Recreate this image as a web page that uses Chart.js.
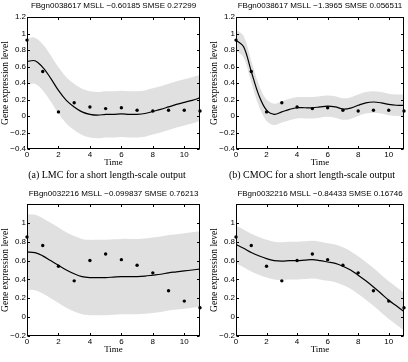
<!DOCTYPE html>
<html><head><meta charset="utf-8">
<script src="https://cdn.jsdelivr.net/npm/chart.js@4"></script>
<style>
html,body{margin:0;padding:0;background:#fff;}
body{width:408px;height:362px;position:relative;overflow:hidden;}
canvas{position:absolute;}
.cap{position:absolute;font-family:'Liberation Serif','Times New Roman',serif;font-size:10px;color:#000;white-space:nowrap;transform:translateX(-50%);line-height:12px;}
</style></head><body>
<canvas id="c1" width="204" height="170" style="left:0;top:0"></canvas>
<canvas id="c2" width="204" height="170" style="left:204px;top:0"></canvas>
<canvas id="c3" width="204" height="178" style="left:0;top:184px"></canvas>
<canvas id="c4" width="204" height="178" style="left:204px;top:184px"></canvas>
<div class="cap" style="left:107px;top:169px">(a) LMC for a short length-scale output</div>
<div class="cap" style="left:312px;top:169px">(b) CMOC for a short length-scale output</div>
<script>
// ---- data ----
const tGrid = [0,0.5,1,1.5,2,2.5,3,3.5,4,4.5,5,5.5,6,6.5,7,7.5,8,8.5,9,9.5,10,10.5,11];
const tObs = [0,1,2,3,4,5,6,7,8,9,10,11];
const xTicks = [0,2,4,6,8,10];
const yTicksTop = [-0.4,-0.2,0,0.2,0.4,0.6,0.8,1,1.2];
const yTicksBottom = [-0.2,0,0.2,0.4,0.6,0.8,1];

const titles = [
  "FBgn0038617 MSLL \u22120.60185 SMSE 0.27299",
  "FBgn0038617 MSLL \u22121.3965 SMSE 0.056511",
  "FBgn0032216 MSLL \u22120.099837 SMSE 0.76213",
  "FBgn0032216 MSLL \u22120.84433 SMSE 0.16746"
];

// observations
const obsGene1 = [0.92,0.54,0.05,0.16,0.11,0.09,0.10,0.07,0.06,0.07,0.07,0.06];
const obsGene2 = [0.85,0.76,0.54,0.385,0.60,0.67,0.61,0.55,0.47,0.28,0.17,0.10];

// (a) LMC gene 1
const meanA = [0.66,0.67,0.59,0.46,0.31,0.19,0.11,0.05,0.02,0.01,0.02,0.02,0.025,0.02,0.02,0.03,0.055,0.08,0.11,0.14,0.165,0.19,0.22];
const upperA = [0.94,0.95,0.87,0.74,0.59,0.47,0.39,0.33,0.30,0.29,0.30,0.30,0.305,0.30,0.30,0.31,0.335,0.36,0.39,0.42,0.445,0.47,0.50];
const lowerA = [0.38,0.39,0.31,0.18,0.03,-0.09,-0.17,-0.23,-0.26,-0.27,-0.26,-0.26,-0.255,-0.26,-0.26,-0.25,-0.225,-0.20,-0.17,-0.14,-0.115,-0.09,-0.06];

// (b) CMOC gene 1
const meanB = [0.92,0.84,0.54,0.25,0.07,0.02,0.05,0.08,0.10,0.10,0.10,0.11,0.12,0.11,0.085,0.095,0.13,0.16,0.17,0.16,0.14,0.13,0.13];
const upperB = [1.05,0.97,0.67,0.38,0.20,0.15,0.18,0.21,0.23,0.23,0.23,0.24,0.25,0.24,0.215,0.225,0.26,0.29,0.30,0.29,0.27,0.26,0.26];
const lowerB = [0.79,0.71,0.41,0.12,-0.06,-0.11,-0.08,-0.05,-0.03,-0.03,-0.03,-0.02,-0.01,-0.02,-0.045,-0.035,0.00,0.03,0.04,0.03,0.01,0.00,0.00];

// (c) LMC gene 2
const meanC = [0.69,0.685,0.65,0.60,0.55,0.50,0.46,0.43,0.42,0.42,0.42,0.425,0.43,0.43,0.43,0.435,0.445,0.455,0.47,0.48,0.49,0.50,0.51];
const upperC = [1.09,1.085,1.05,1.00,0.95,0.90,0.86,0.83,0.82,0.82,0.82,0.825,0.83,0.83,0.83,0.835,0.845,0.855,0.87,0.88,0.89,0.90,0.91];
const lowerC = [0.29,0.285,0.25,0.20,0.15,0.10,0.06,0.03,0.02,0.02,0.02,0.025,0.03,0.03,0.03,0.035,0.045,0.055,0.07,0.08,0.09,0.10,0.11];

// (d) CMOC gene 2
const meanD = [0.77,0.73,0.685,0.65,0.62,0.60,0.595,0.60,0.60,0.605,0.61,0.60,0.585,0.57,0.54,0.50,0.445,0.385,0.32,0.25,0.18,0.12,0.06];
const upperD = [0.97,0.93,0.885,0.85,0.82,0.80,0.795,0.80,0.80,0.805,0.81,0.80,0.785,0.77,0.74,0.70,0.645,0.585,0.52,0.45,0.38,0.32,0.26];
const lowerD = [0.57,0.53,0.485,0.45,0.42,0.40,0.395,0.40,0.40,0.405,0.41,0.40,0.385,0.37,0.34,0.30,0.245,0.185,0.12,0.05,-0.02,-0.08,-0.14];

// ---- drawing ----
const SANS = "'Liberation Sans', Arial, sans-serif";
const SERIF = "'Liberation Serif', 'Times New Roman', serif";
function fmt(v){
  const r = Math.round(v*10)/10;
  if (r === 0) return "0";
  return String(r).replace('-', '\u2212');
}
const framePlugin = {
  id: 'frame',
  afterDraw(chart){
    const {ctx, chartArea:a, scales:{x, y}} = chart;
    const l = Math.round(a.left)+0.5, r = Math.round(a.right)-0.5, t = Math.round(a.top)+0.5, b = Math.round(a.bottom)-0.5;
    ctx.save();
    ctx.strokeStyle = '#000'; ctx.lineWidth = 1;
    ctx.strokeRect(l, t, r-l, b-t);
    const L = 2.5;
    ctx.beginPath();
    x.ticks.forEach(tk => {
      const px = Math.round(x.getPixelForValue(tk.value))+0.5;
      ctx.moveTo(px, b); ctx.lineTo(px, b-L);
      ctx.moveTo(px, t); ctx.lineTo(px, t+L);
    });
    y.ticks.forEach(tk => {
      const py = Math.round(y.getPixelForValue(tk.value))+0.5;
      ctx.moveTo(l, py); ctx.lineTo(l+L, py);
      ctx.moveTo(r, py); ctx.lineTo(r-L, py);
    });
    ctx.stroke();
    ctx.restore();
  }
};
function pts(xs, ys){ return xs.map((v,i)=>({x:v, y:ys[i]})); }

function makeChart(id, title, mean, upper, lower, obs, yTicks, yMin, lay){
  new Chart(document.getElementById(id), {
    type: 'line',
    data: {
      datasets: [
        {data: pts(tGrid, upper), order: 3, borderWidth: 0, pointRadius: 0, fill: '+1', backgroundColor: 'rgb(224,224,224)', borderColor: 'rgba(0,0,0,0)', tension: 0.35},
        {data: pts(tGrid, lower), order: 3, borderWidth: 0, pointRadius: 0, fill: false, borderColor: 'rgba(0,0,0,0)', tension: 0.35},
        {data: pts(tGrid, mean), order: 1, borderWidth: 1.2, borderColor: '#000', pointRadius: 0, fill: false, tension: 0.35},
        {data: pts(tObs, obs), order: 0, showLine: false, pointRadius: 1.7, pointBorderWidth: 0, pointBackgroundColor: '#000', borderColor: '#000', clip: false}
      ]
    },
    options: {
      responsive: false, animation: false, devicePixelRatio: 1,
      layout: {padding: {left: 0, right: 2, top: 0, bottom: 0}},
      plugins: {
        filler: {drawTime: 'beforeDatasetsDraw'},
        legend: {display: false}, tooltip: {enabled: false},
        title: {display: true, text: title, fullSize: false, color: '#000',
          font: {family: SANS, size: 8, weight: 'normal'}, padding: {top: lay.tPadTop, bottom: lay.tPadBot}}
      },
      scales: {
        x: {type: 'linear', min: 0, max: 11,
          grid: {display: false, drawTicks: false}, border: {display: false},
          afterBuildTicks: s => { s.ticks = xTicks.map(v => ({value: v})); },
          afterFit: s => { s.height = lay.xH; },
          ticks: {padding: 1, color: '#000', font: {family: SANS, size: 8}, maxRotation: 0, callback: v => fmt(v)},
          title: {display: true, text: 'Time', color: '#000', font: {family: SERIF, size: 9}, padding: {top: 0, bottom: lay.xTitlePad}}
        },
        y: {type: 'linear', min: yMin, max: 1.2,
          grid: {display: false, drawTicks: false}, border: {display: false},
          afterBuildTicks: s => { s.ticks = yTicks.map(v => ({value: v})); },
          afterFit: s => { s.width = lay.yW; },
          ticks: {padding: 1, color: '#000', font: {family: SANS, size: 8}, callback: v => fmt(v)},
          title: {display: true, text: 'Gene expression level', color: '#000', font: {family: SERIF, size: 9.5}, padding: {top: lay.yTitlePad, bottom: 0}}
        }
      }
    },
    plugins: [framePlugin]
  });
}
const layTopL = {tPadTop: 1.4, tPadBot: 6, xH: 21, xTitlePad: 1.6, yW: 27, yTitlePad: 0};
const layTopR = {tPadTop: 1.4, tPadBot: 6, xH: 21, xTitlePad: 1.6, yW: 32, yTitlePad: 4.8};
const layBotL = {tPadTop: 5, tPadBot: 5.4, xH: 26, xTitlePad: 6.6, yW: 27, yTitlePad: 0};
const layBotR = {tPadTop: 5, tPadBot: 5.4, xH: 26, xTitlePad: 6.6, yW: 32, yTitlePad: 4.8};
makeChart('c1', titles[0], meanA, upperA, lowerA, obsGene1, yTicksTop, -0.4, layTopL);
makeChart('c2', titles[1], meanB, upperB, lowerB, obsGene1, yTicksTop, -0.4, layTopR);
makeChart('c3', titles[2], meanC, upperC, lowerC, obsGene2, yTicksBottom, -0.2, layBotL);
makeChart('c4', titles[3], meanD, upperD, lowerD, obsGene2, yTicksBottom, -0.2, layBotR);
</script>
</body></html>
